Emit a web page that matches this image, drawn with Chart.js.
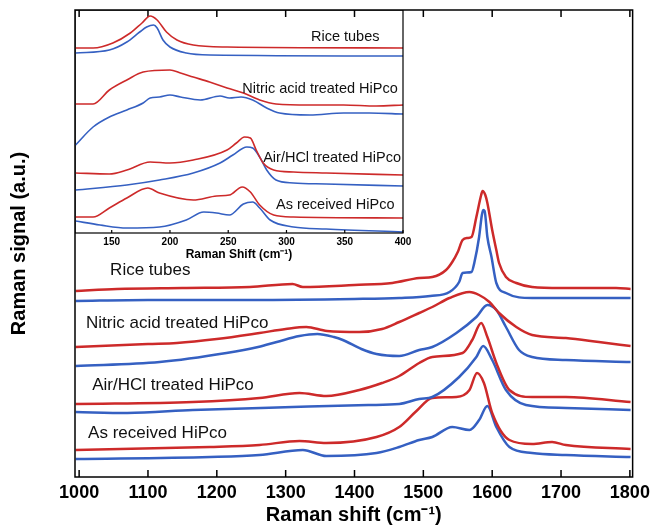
<!DOCTYPE html>
<html>
<head>
<meta charset="utf-8">
<script src="https://cdn.jsdelivr.net/npm/chart.js@4.4.1/dist/chart.umd.min.js"></script>
<style>
  html, body { margin: 0; padding: 0; background: #fff; }
  #wrap { position: relative; width: 655px; height: 531px; }
  #mainChart { position: absolute; left: 0; top: 0; }
  #insetChart { position: absolute; left: 75px; top: 10px; }
</style>
</head>
<body>
<div id="wrap">
  <canvas id="mainChart" width="655" height="531"></canvas>
  <canvas id="insetChart" width="340" height="255"></canvas>
</div>
<script>
// main spectra, [Raman shift, signal a.u.]
const riceRed = [[995,186],[1055,188],[1150,189],[1248,190],[1310,193],[1325,190],[1400,192],[1455,194],[1494,199],[1513,200],[1533,207],[1542,215],[1550,225],[1557,237],[1564,239],[1570,240],[1577,260],[1584,282],[1586,286],[1590,282],[1593,274],[1600,247],[1606,227],[1610,214],[1620,200],[1635,194],[1658,190],[1700,189],[1780,189],[1801,188]];
const riceBlue = [[995,176],[1100,177],[1250,177],[1400,178],[1465,179],[1510,181],[1538,185],[1552,195],[1557,204],[1570,205],[1574,214],[1581,240],[1585,262],[1587,267],[1589,266],[1593,240],[1599,220],[1606,194],[1620,184],[1658,179],[1801,179]];
const nitricRed = [[995,130],[1100,133],[1142,134],[1200,138],[1262,144],[1300,148],[1330,150],[1360,146],[1407,145],[1440,148],[1465,155],[1494,164],[1513,170],[1538,179],[1567,185],[1581,182],[1596,175],[1610,164],[1635,150],[1658,142],[1707,139],[1755,135],[1801,131]];
const nitricBlue = [[995,111],[1117,115],[1214,124],[1260,130],[1287,135],[1320,141],[1346,143],[1370,140],[1383,137],[1410,128],[1432,123],[1465,121],[1494,127],[1513,130],[1548,144],[1577,160],[1593,172],[1606,167],[1620,150],[1639,127],[1658,120],[1707,117],[1801,115]];
const airRed = [[995,73],[1165,75],[1262,79],[1320,84],[1359,81],[1407,87],[1440,94],[1465,101],[1494,114],[1513,120],[1557,124],[1571,137],[1584,154],[1593,140],[1606,114],[1625,87],[1658,80],[1707,80],[1801,75]];
const airBlue = [[995,65],[1070,64],[1165,67],[1310,70],[1420,72],[1465,73],[1494,78],[1513,80],[1552,100],[1577,120],[1587,131],[1600,117],[1620,87],[1649,72],[1707,69],[1801,67]];
const arRed = [[995,27],[1190,30],[1262,32],[1320,36],[1359,34],[1432,40],[1465,50],[1490,66],[1513,79],[1548,80],[1567,87],[1578,104],[1588,94],[1600,64],[1625,37],[1658,33],[1687,35],[1707,32],[1801,28]];
const arBlue = [[995,18],[1190,20],[1262,22],[1325,27],[1359,21],[1432,24],[1465,30],[1494,37],[1513,40],[1542,50],[1567,47],[1581,57],[1593,71],[1606,50],[1625,30],[1658,24],[1707,22],[1801,20]];

// inset spectra (RBM region)
const insRiceRed = [[119,185],[134,185],[151,190],[166,200],[176,210],[183,217],[189,213],[197,201],[206,193],[220,188],[249,186],[400,185]];
const insRiceBlue = [[119,180],[148,183],[163,191],[174,201],[180,206],[186,208],[189,205],[194,193],[200,186],[214,180],[234,178],[400,177]];
const insNitricRed = [[119,129],[134,129],[148,143],[163,153],[177,161],[200,163],[209,160],[220,156],[234,151],[249,145],[263,140],[277,133],[291,129],[320,128],[349,128],[377,127],[400,128]];
const insNitricBlue = [[119,88],[134,106],[148,116],[163,123],[177,130],[183,135],[191,136],[200,138],[209,136],[226,133],[243,137],[251,135],[261,136],[271,133],[283,125],[294,120],[320,118],[349,120],[371,120],[400,119]];
const insAirRed = [[119,60],[148,59],[163,63],[183,71],[200,70],[220,73],[249,83],[257,90],[264,96],[269,95],[274,83],[280,70],[289,63],[306,61],[334,60],[400,58]];
const insAirBlue = [[119,43],[163,48],[191,53],[220,60],[243,70],[254,78],[266,86],[271,85],[277,76],[283,63],[291,53],[306,50],[334,49],[400,47]];
const insArRed = [[119,16],[134,16],[148,25],[163,35],[181,45],[191,40],[220,33],[240,37],[251,38],[262,46],[269,41],[277,28],[289,18],[306,16],[400,15]];
const insArBlue = [[119,12],[140,8],[163,5],[191,6],[214,13],[229,21],[240,20],[251,18],[263,29],[271,31],[277,25],[286,13],[306,6],[334,4],[400,1]];

const mainTicks = [1000, 1100, 1200, 1300, 1400, 1500, 1600, 1700, 1800];
const insetTicks = [150, 200, 250, 300, 350, 400];

// sample names with anchor [x, y] in data units
const mainLabels = [['Rice tubes', 1045, 207], ['Nitric acid treated HiPco', 1010, 154], ['Air/HCl treated HiPco', 1019, 92], ['As received HiPco', 1013, 44]];
const insetLabels = [['Rice tubes', 321, 196], ['Nitric acid treated HiPco', 262, 144], ['Air/HCl treated HiPco', 280, 75], ['As received HiPco', 291, 28]];

const RED = '#cd2a2a';
const BLUE = '#3560c2';
const FONT = "'Liberation Sans', Arial, sans-serif";

const framePlugin = {
  id: 'frame',
  afterDatasetsDraw(chart, args, opts) {
    const { ctx, chartArea: a, scales: { x } } = chart;
    ctx.save();
    ctx.strokeStyle = '#000';
    ctx.lineWidth = opts.width;
    ctx.strokeRect(a.left, a.top, a.right - a.left, a.bottom - a.top);
    ctx.beginPath();
    x.ticks.forEach(t => {
      const px = x.getPixelForValue(t.value);
      ctx.moveTo(px, a.bottom);
      ctx.lineTo(px, a.bottom - opts.tick);
      if (opts.top) {
        ctx.moveTo(px, a.top);
        ctx.lineTo(px, a.top + opts.tick);
      }
    });
    ctx.stroke();
    ctx.restore();
  }
};

const labelPlugin = {
  id: 'seriesLabels',
  afterDatasetsDraw(chart, args, opts) {
    const { ctx, scales: { x, y } } = chart;
    ctx.save();
    ctx.font = opts.font;
    ctx.fillStyle = '#111';
    ctx.textBaseline = 'middle';
    opts.items.forEach(([text, xv, yv]) => {
      ctx.fillText(text, x.getPixelForValue(xv), y.getPixelForValue(yv));
    });
    ctx.restore();
  }
};

function line(data, color, width) {
  return {
    data: data.map(([x, y]) => ({ x, y })),
    borderColor: color,
    borderWidth: width,
    pointRadius: 0,
    cubicInterpolationMode: 'monotone',
    fill: false
  };
}

new Chart(document.getElementById('mainChart').getContext('2d'), {
  type: 'line',
  data: {
    datasets: [
      line(riceRed, RED, 2.5), line(riceBlue, BLUE, 2.5),
      line(nitricRed, RED, 2.5), line(nitricBlue, BLUE, 2.5),
      line(airRed, RED, 2.5), line(airBlue, BLUE, 2.5),
      line(arRed, RED, 2.5), line(arBlue, BLUE, 2.5)
    ]
  },
  plugins: [framePlugin, labelPlugin],
  options: {
    responsive: false,
    animation: false,
    devicePixelRatio: 1,
    layout: { padding: { top: 10, right: 21, bottom: 0, left: 0 } },
    plugins: {
      legend: { display: false },
      tooltip: { enabled: false },
      frame: { width: 1.5, tick: 7, top: true },
      seriesLabels: { font: '17px ' + FONT, items: mainLabels }
    },
    scales: {
      x: {
        type: 'linear',
        min: 994,
        max: 1804,
        afterBuildTicks: s => { s.ticks = mainTicks.map(v => ({ value: v })); },
        afterFit: s => { s.height = 54; },
        grid: { display: false, drawTicks: false },
        border: { display: false },
        ticks: { color: '#000', padding: 5, maxRotation: 0, callback: v => String(v), font: { family: FONT, size: 18, weight: 'bold' } },
        title: { display: true, text: 'Raman shift (cm\u207B\u00B9)', color: '#000', padding: { top: 0, bottom: 4 }, font: { family: FONT, size: 20, weight: 'bold' } }
      },
      y: {
        min: 0,
        max: 467,
        afterFit: s => { s.width = 75; },
        grid: { display: false, drawTicks: false },
        border: { display: false },
        ticks: { display: false },
        title: { display: true, text: 'Raman signal (a.u.)', color: '#000', padding: { top: 7, bottom: 0 }, font: { family: FONT, size: 20, weight: 'bold' } }
      }
    }
  }
});

new Chart(document.getElementById('insetChart').getContext('2d'), {
  type: 'line',
  data: {
    datasets: [
      line(insRiceRed, RED, 1.6), line(insRiceBlue, BLUE, 1.6),
      line(insNitricRed, RED, 1.6), line(insNitricBlue, BLUE, 1.6),
      line(insAirRed, RED, 1.6), line(insAirBlue, BLUE, 1.6),
      line(insArRed, RED, 1.6), line(insArBlue, BLUE, 1.6)
    ]
  },
  plugins: [framePlugin, labelPlugin],
  options: {
    responsive: false,
    animation: false,
    devicePixelRatio: 1,
    layout: { padding: { top: 0, right: 12, bottom: 0, left: 0 } },
    plugins: {
      legend: { display: false },
      tooltip: { enabled: false },
      frame: { width: 1.2, tick: 3, top: false },
      seriesLabels: { font: '14.5px ' + FONT, items: insetLabels }
    },
    scales: {
      x: {
        type: 'linear',
        min: 118.5,
        max: 400,
        afterBuildTicks: s => { s.ticks = insetTicks.map(v => ({ value: v })); },
        afterFit: s => { s.height = 32; },
        grid: { display: false, drawTicks: false },
        border: { display: false },
        ticks: { color: '#000', padding: 3, maxRotation: 0, callback: v => String(v), font: { family: FONT, size: 10, weight: 'bold' } },
        title: { display: true, text: 'Raman Shift (cm\u207B\u00B9)', color: '#000', padding: { top: 0, bottom: 3 }, font: { family: FONT, size: 12, weight: 'bold' } }
      },
      y: {
        display: false,
        min: 0,
        max: 223
      }
    }
  }
});
</script>
</body>
</html>
